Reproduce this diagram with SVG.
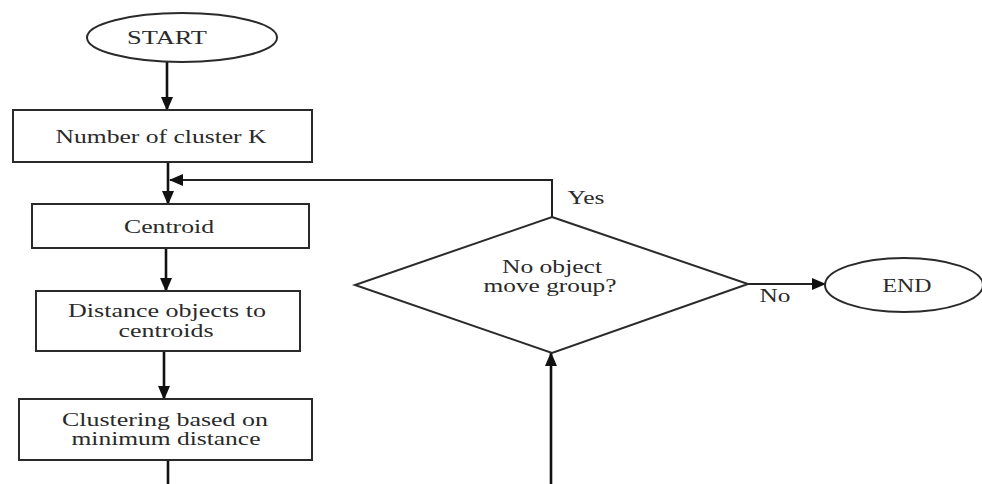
<svg xmlns="http://www.w3.org/2000/svg" width="982" height="484" viewBox="0 0 982 484">
<style>
.shape{fill:#fff;stroke:#2a2a2a;stroke-width:2}
.conn{fill:none;stroke:#111;stroke-width:2.6}
.thin{fill:none;stroke:#222;stroke-width:2}
text{font-family:"Liberation Serif","Times New Roman",serif;font-size:19px;fill:#2a2a2a;text-anchor:middle}
</style>
<defs>
<marker id="ah" markerUnits="userSpaceOnUse" markerWidth="14" markerHeight="12" refX="13" refY="6" orient="auto">
<path d="M0,0 L14,6 L0,12 Z" fill="#111"/>
</marker>
</defs>
<rect width="982" height="484" fill="#fff"/>
<g id="connectors">
<line class="conn" x1="167" y1="62" x2="167" y2="110" marker-end="url(#ah)"/>
<line class="conn" x1="168" y1="162" x2="168" y2="204" marker-end="url(#ah)"/>
<polyline class="thin" points="552,217 552,180 170,180" marker-end="url(#ah)"/>
<line class="conn" x1="166" y1="248" x2="166" y2="291" marker-end="url(#ah)"/>
<line class="conn" x1="164" y1="351" x2="164" y2="399" marker-end="url(#ah)"/>
<line class="conn" x1="168" y1="460" x2="168" y2="484"/>
<line class="conn" x1="551" y1="484" x2="551" y2="353" marker-end="url(#ah)"/>
<line class="thin" x1="748" y1="284" x2="825" y2="284" marker-end="url(#ah)"/>
<text x="586" y="204" textLength="37" lengthAdjust="spacingAndGlyphs">Yes</text>
<text x="775" y="302" textLength="31" lengthAdjust="spacingAndGlyphs">No</text>
</g>
<g id="start">
<ellipse class="shape" cx="182" cy="37.5" rx="95" ry="24.5"/>
<text x="167" y="44" textLength="80" lengthAdjust="spacingAndGlyphs">START</text>
</g>
<g id="number">
<rect class="shape" x="13" y="110" width="299" height="52"/>
<text x="161" y="143" textLength="211" lengthAdjust="spacingAndGlyphs">Number of cluster K</text>
</g>
<g id="centroid">
<rect class="shape" x="32" y="204" width="277" height="44"/>
<text x="169" y="233" textLength="90" lengthAdjust="spacingAndGlyphs">Centroid</text>
</g>
<g id="distance">
<rect class="shape" x="36" y="291" width="264" height="60"/>
<text x="167" y="317" textLength="198" lengthAdjust="spacingAndGlyphs">Distance objects to</text>
<text x="166" y="337" textLength="95" lengthAdjust="spacingAndGlyphs">centroids</text>
</g>
<g id="clustering">
<rect class="shape" x="19" y="399" width="293" height="61"/>
<text x="165" y="426" textLength="206" lengthAdjust="spacingAndGlyphs">Clustering based on</text>
<text x="166" y="445" textLength="189" lengthAdjust="spacingAndGlyphs">minimum distance</text>
</g>
<g id="decision">
<polygon class="shape" points="552,217 748,284 552,353 355,285"/>
<text x="552" y="273" textLength="100" lengthAdjust="spacingAndGlyphs">No object</text>
<text x="550" y="292" textLength="133" lengthAdjust="spacingAndGlyphs">move group?</text>
</g>
<g id="end">
<ellipse class="shape" cx="904" cy="285" rx="79" ry="27"/>
<text x="907" y="292" textLength="49" lengthAdjust="spacingAndGlyphs">END</text>
</g>
</svg>
